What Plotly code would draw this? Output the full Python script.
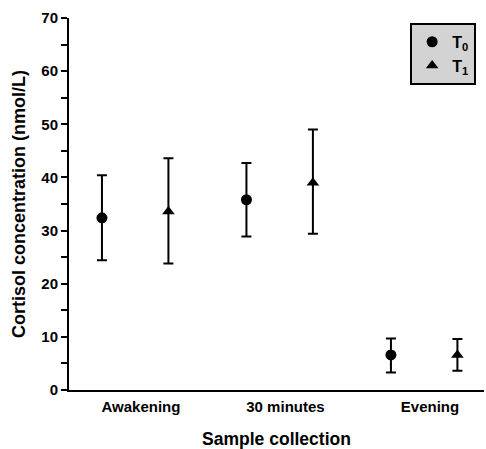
import plotly.graph_objects as go

categories = ["Awakening", "30 minutes", "Evening"]
t0_mean = [32.4, 35.8, 6.6]
t0_upper = [40.4, 42.7, 9.7]
t0_lower = [24.4, 28.9, 3.3]
t1_mean = [33.6, 39.0, 6.6]
t1_upper = [43.6, 49.0, 9.6]
t1_lower = [23.8, 29.4, 3.6]

idx = list(range(len(categories)))
x0 = [i - 0.27 for i in idx]
x1 = [i + 0.19 for i in idx]

fig = go.Figure()
fig.add_trace(go.Scatter(
    x=x0, y=t0_mean, mode="markers", name="T<sub>0</sub>",
    marker=dict(symbol="circle", size=11, color="black"),
    error_y=dict(type="data", symmetric=False,
                 array=[u - m for u, m in zip(t0_upper, t0_mean)],
                 arrayminus=[m - l for m, l in zip(t0_mean, t0_lower)],
                 color="black", thickness=2, width=5)))
fig.add_trace(go.Scatter(
    x=x1, y=t1_mean, mode="markers", name="T<sub>1</sub>",
    marker=dict(symbol="triangle-up", size=11, color="black"),
    error_y=dict(type="data", symmetric=False,
                 array=[u - m for u, m in zip(t1_upper, t1_mean)],
                 arrayminus=[m - l for m, l in zip(t1_mean, t1_lower)],
                 color="black", thickness=2, width=5)))

font = dict(family="Liberation Sans, Arial", color="black")
fig.update_layout(
    width=486, height=449,
    margin=dict(l=69, r=2, t=18, b=59),
    plot_bgcolor="white", paper_bgcolor="white",
    font=dict(**font, size=15),
    showlegend=True,
    legend=dict(x=0.822, y=0.987, xanchor="left", yanchor="top",
                bgcolor="#d3d3d3", bordercolor="black", borderwidth=2,
                font=dict(**font, size=16, weight="bold"),
                itemwidth=30, tracegroupgap=0),
    xaxis=dict(range=[-0.498, 2.374], tickvals=idx, ticktext=categories,
               showline=True, linecolor="black", linewidth=2,
               ticks="", showgrid=False, zeroline=False,
               ticklabelstandoff=2,
               tickfont=dict(**font, size=15, weight="bold"),
               title=dict(text="Sample collection", standoff=20,
                          font=dict(**font, size=17.5, weight="bold"))),
    yaxis=dict(range=[0, 70], tickvals=[0, 10, 20, 30, 40, 50, 60, 70],
               showline=True, linecolor="black", linewidth=2,
               ticks="outside", ticklen=6, tickwidth=2, tickcolor="black",
               minor=dict(tickvals=[5, 15, 25, 35, 45, 55, 65], ticks="outside",
                          ticklen=6, tickwidth=2, tickcolor="black"),
               showgrid=False, zeroline=False,
               tickfont=dict(**font, size=15, weight="bold"),
               title=dict(text="Cortisol concentration (nmol/L)", standoff=11,
                          font=dict(**font, size=18, weight="bold"))),
)
fig.write_html("out.html")
